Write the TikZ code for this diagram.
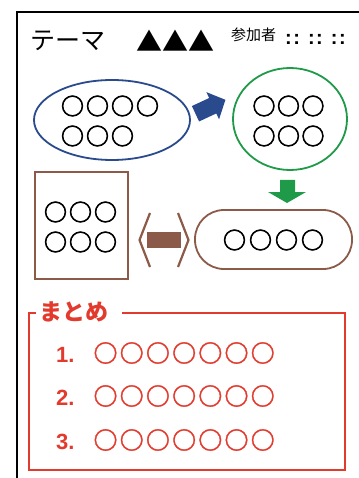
\documentclass[tikz,border=0pt]{standalone}
\usepackage{fontspec}
\setmainfont{Liberation Sans}
\newfontfamily\jp{Noto Sans CJK JP}
\newfontfamily\jpblack{Noto Sans CJK JP}[FakeBold=3]
\newfontfamily\jpthick{Noto Sans CJK JP}[FakeBold=1.5]
\usetikzlibrary{shapes.geometric}
\definecolor{cblue}{HTML}{2A4A8E}
\definecolor{cgreen}{HTML}{1E9A48}
\definecolor{cbrown}{HTML}{8C5A48}
\definecolor{cred}{HTML}{E23B2E}
\begin{document}
\begin{tikzpicture}[x=1pt,y=-1pt,
  circs/.style={inner sep=0pt, align=left, font=\jpblack\fontsize{23}{30}\selectfont},
  shapeline/.style={line width=1.8pt},
  reditem/.style={anchor=west, inner sep=0pt, text=cred},
]
\useasboundingbox[fill=white] (0,0) rectangle (358,478);
% page frame
\draw[line width=2pt] (17,480) -- (17,12) -- (360,12);
% header
\node[anchor=west, inner sep=0pt, font=\jp\fontsize{25}{25}\selectfont] (theme) at (30,41) {テーマ};
\node[anchor=west, inner sep=0pt, font=\jp\fontsize{26}{26}\selectfont] (tri) at (136,41) {▲▲▲};
\node[anchor=west, inner sep=0pt, font=\jp\fontsize{15}{15}\selectfont] (part) at (231,35) {参加者};
\node[anchor=west, inner sep=0pt, font=\bfseries\fontsize{20}{20}\selectfont] (dots) at (285,39) {:\kern1.5pt:\hspace{8pt}:\kern1.5pt:\hspace{8pt}:\kern1.5pt:};
% blue ellipse
\node[ellipse, draw=cblue, shapeline, minimum width=156, minimum height=80] (e1) at (112,120) {};
\node[circs] (e1t) at (110,121) {○\kern2pt○\kern2pt○\kern2pt○\\○\kern2pt○\kern2pt○};
% blue arrow
\begin{scope}[shift={(210,107)}, rotate=25]
\fill[cblue] (-16,-8.5) -- (3,-8.5) -- (3,-15) -- (17,0) -- (3,15) -- (3,8.5) -- (-16,8.5) -- cycle;
\end{scope}
% green circle
\node[ellipse, draw=cgreen, shapeline, minimum width=114, minimum height=102] (g1) at (290,119) {};
\node[circs] (g1t) at (288.5,121) {○\kern1.5pt○\kern1.5pt○\\○\kern1.5pt○\kern1.5pt○};
% green arrow
\fill[cgreen] (280,180) -- (295,180) -- (295,192) -- (306,192) -- (287,203) -- (268,192) -- (280,192) -- cycle;
% brown rectangle
\node[draw=cbrown, shapeline, minimum width=93, minimum height=107, inner sep=0pt] (r1) at (81.5,225.5) {};
\node[circs] (r1t) at (80.5,227) {○\kern2pt○\kern2pt○\\○\kern2pt○\kern2pt○};
% brown double arrow
\draw[cbrown, line width=2.2pt] (150,213) -- (139.5,240) -- (150,267);
\draw[cbrown, line width=2.2pt] (178,213) -- (188.5,240) -- (178,267);
\fill[cbrown] (147,232) rectangle (181,248);
% stadium
\node[draw=cbrown, shapeline, rounded corners=29pt, minimum width=157, minimum height=59, inner sep=0pt] (s1) at (273.5,239.5) {};
\node[circs] (s1t) at (273.5,240) {○\kern3pt○\kern3pt○\kern3pt○};
% summary box
\draw[cred, line width=1.8pt] (36,313) -- (29,313) -- (29,470) -- (345,470) -- (345,313) -- (122,313);
\node[anchor=west, inner sep=0pt, text=cred, font=\jp\bfseries\fontsize{23}{23}\selectfont] (sum) at (39,312) {まとめ};
\node[reditem] (i1) at (56,353) {\bfseries\fontsize{22}{22}\selectfont 1.\hspace{19pt}{\jpthick\fontsize{24}{24}\selectfont ○\kern2.2pt○\kern2.2pt○\kern2.2pt○\kern2.2pt○\kern2.2pt○\kern2.2pt○}};
\node[reditem] (i2) at (56,396) {\bfseries\fontsize{22}{22}\selectfont 2.\hspace{19pt}{\jpthick\fontsize{24}{24}\selectfont ○\kern2.2pt○\kern2.2pt○\kern2.2pt○\kern2.2pt○\kern2.2pt○\kern2.2pt○}};
\node[reditem] (i3) at (56,440) {\bfseries\fontsize{22}{22}\selectfont 3.\hspace{19pt}{\jpthick\fontsize{24}{24}\selectfont ○\kern2.2pt○\kern2.2pt○\kern2.2pt○\kern2.2pt○\kern2.2pt○\kern2.2pt○}};
\end{tikzpicture}
\end{document}
